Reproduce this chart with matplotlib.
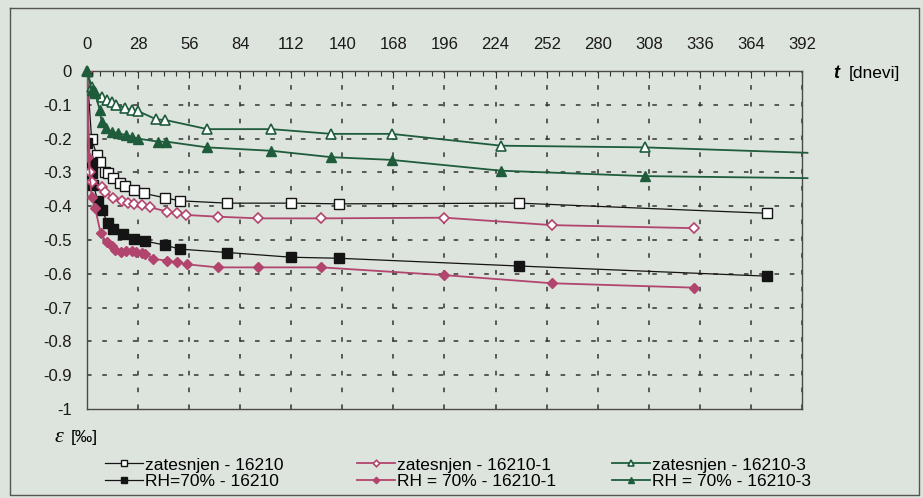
import matplotlib.pyplot as plt
from matplotlib.lines import Line2D
from matplotlib.ticker import MultipleLocator

# days / strain [permille]
t_zat = [0, 2.5, 5.3, 7, 9.8, 11.6, 14.4, 18, 21, 26, 31, 42.6, 50.8, 77, 112, 138, 237, 373]
e_zat = [0, -0.200, -0.248, -0.268, -0.298, -0.303, -0.317, -0.332, -0.340, -0.352, -0.362,
         -0.375, -0.384, -0.391, -0.391, -0.393, -0.391, -0.421]

t_rh = [0, 0.2, 2.5, 2.8, 3.5, 6, 8, 11.6, 14.4, 19.8, 26, 31.7, 42.6, 51, 77, 112, 138, 237, 373]
e_rh = [0, -0.212, -0.273, -0.303, -0.337, -0.386, -0.411, -0.451, -0.466, -0.483, -0.496,
        -0.503, -0.515, -0.527, -0.537, -0.551, -0.554, -0.577, -0.607]

t_zat1 = [0, 1.6, 2.5, 8, 10, 14.4, 19, 22.6, 26, 30, 34.4, 44, 49.3, 54.4, 71.7, 94, 128.5, 196, 255, 333]
e_zat1 = [0, -0.300, -0.327, -0.342, -0.357, -0.377, -0.386, -0.391, -0.393, -0.396, -0.403,
          -0.416, -0.421, -0.426, -0.431, -0.436, -0.436, -0.434, -0.456, -0.465]

t_rh1 = [0, 0.7, 2.5, 4.4, 7.5, 10.7, 13.5, 15.3, 18.6, 21.6, 24.4, 27, 30, 32, 36.3, 44, 49.5,
         54.8, 71.7, 94, 128.5, 196, 255, 333]
e_rh1 = [0, -0.253, -0.372, -0.404, -0.480, -0.507, -0.519, -0.530, -0.536, -0.534, -0.534,
         -0.536, -0.539, -0.541, -0.556, -0.561, -0.566, -0.572, -0.581, -0.581, -0.581,
         -0.604, -0.628, -0.641]

# last value of the green series is the line end without a marker
t_zat3 = [0, 2.5, 4.4, 8, 10.7, 13.5, 16, 20.8, 24.4, 27.7, 38, 43, 66, 101, 134, 167, 227, 306, 395]
e_zat3 = [0, -0.046, -0.061, -0.076, -0.086, -0.091, -0.100, -0.110, -0.115, -0.118, -0.143,
          -0.145, -0.172, -0.172, -0.186, -0.186, -0.221, -0.226, -0.242]

t_rh3 = [0, 2.5, 4.4, 7, 8, 10.4, 13.5, 17, 21.6, 24.4, 28, 39, 43.5, 66, 101, 134, 167, 227, 306, 395]
e_rh3 = [0, -0.056, -0.066, -0.115, -0.150, -0.170, -0.180, -0.184, -0.190, -0.194, -0.200,
         -0.209, -0.209, -0.226, -0.236, -0.255, -0.263, -0.295, -0.311, -0.317]

x_ticks = list(range(0, 393, 28))
y_ticks = [0, -0.1, -0.2, -0.3, -0.4, -0.5, -0.6, -0.7, -0.8, -0.9, -1]
y_labels = ["0", "-0.1", "-0.2", "-0.3", "-0.4", "-0.5", "-0.6", "-0.7", "-0.8", "-0.9", "-1"]

bg = "#dde3dd"
black = "#141414"
pink = "#b2456e"
green = "#1e5c3c"
grid_c = "#333333"

plt.rcParams['font.family'] = ['Liberation Sans', 'DejaVu Sans']

fig = plt.figure(figsize=(9.23, 4.98), dpi=100, facecolor=bg)
ax = fig.add_axes([87 / 923, 1 - 409 / 498, 715 / 923, 338 / 498])
ax.set_facecolor(bg)

# dashed grid
for yv in y_ticks[1:-1]:
    ax.axhline(yv, color=grid_c, lw=1.1, dashes=(3, 7), zorder=2)
for xv in x_ticks[1:]:
    ax.axvline(xv, color=grid_c, lw=1.1, dashes=(3, 8), zorder=2)

ms = 6.5
l1, = ax.plot(t_zat, e_zat, color=black, lw=0.9, marker='s', ms=ms, mfc='white', mec=black, mew=1.0,
              label='zatesnjen - 16210', zorder=3)
l2, = ax.plot(t_rh, e_rh, color=black, lw=0.9, marker='s', ms=ms, mfc=black, mec=black,
              label='RH=70% - 16210', zorder=3)
l3, = ax.plot(t_zat1, e_zat1, color=pink, lw=1.3, marker='D', ms=5.5, mfc='white', mec=pink, mew=1.2,
              label='zatesnjen - 16210-1', zorder=3)
l4, = ax.plot(t_rh1, e_rh1, color=pink, lw=1.3, marker='D', ms=5.5, mfc=pink, mec=pink,
              label='RH = 70% - 16210-1', zorder=3)
l5, = ax.plot(t_zat3, e_zat3, color=green, lw=1.3, marker='^', ms=7, mfc='white', mec=green, mew=1.2,
              markevery=list(range(len(t_zat3) - 1)), clip_on=False,
              label='zatesnjen - 16210-3', zorder=3)
l6, = ax.plot(t_rh3, e_rh3, color=green, lw=1.3, marker='^', ms=7, mfc=green, mec=green,
              markevery=list(range(len(t_rh3) - 1)), clip_on=False,
              label='RH = 70% - 16210-3', zorder=3)

ax.set_xlim(0, 392)
ax.set_ylim(-1, 0)

ax.xaxis.tick_top()
ax.set_xticks(x_ticks)
ax.xaxis.set_minor_locator(MultipleLocator(7))
ax.set_yticks(y_ticks)
ax.set_yticklabels(y_labels)
ax.tick_params(axis='x', which='major', direction='in', length=5, width=0.8, pad=14,
               labelsize=12, color='#333333', labelcolor='#1a1a1a')
ax.tick_params(axis='x', which='minor', direction='in', length=3.5, width=0.8, color='#333333')
ax.tick_params(axis='y', length=0, pad=11, labelsize=12, labelcolor='#1a1a1a')

for s in ax.spines.values():
    s.set_color('#4a4a4a')
    s.set_linewidth(1.0)

# axis titles
fig.text(833 / 923, 1 - 73 / 498, 't', fontsize=13, fontweight='bold', style='italic', va='center')
fig.text(849 / 923, 1 - 73 / 498, '[dnevi]', fontsize=12.5, va='center')
fig.text(55 / 923, 1 - 438 / 498, 'ε', fontsize=16, style='italic',
         family=['Liberation Serif', 'DejaVu Serif'], va='center')
fig.text(71 / 923, 1 - 437 / 498, '[‰]', fontsize=12.5, va='center')

# three two-row legend blocks
for handles, x0 in [((l1, l2), 105), ((l3, l4), 357), ((l5, l6), 612)]:
    fig.legend(handles=handles, loc='center left', bbox_to_anchor=(x0 / 923, 1 - 473 / 498),
               frameon=False, fontsize=12.5, handlelength=2.2, handletextpad=0.1,
               borderpad=0, borderaxespad=0, labelspacing=0.05, markerscale=0.6)

# outer frame as a polyline
fx = [10 / 923, 919 / 923, 919 / 923, 10 / 923, 10 / 923]
fy = [1 - 8 / 498, 1 - 8 / 498, 1 - 495 / 498, 1 - 495 / 498, 1 - 8 / 498]
fig.add_artist(Line2D(fx, fy, transform=fig.transFigure, color='#555555', lw=1.0))

plt.savefig('out.png', dpi=100, facecolor=bg)
